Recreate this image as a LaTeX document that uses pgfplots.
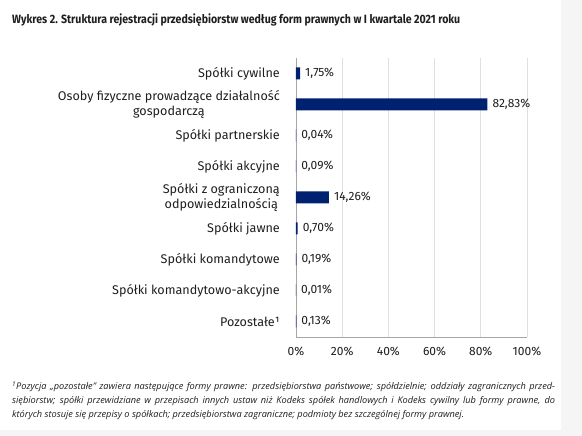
\documentclass[border=0pt]{standalone}
\usepackage{fontspec}
\setmainfont{Fira Sans}
\newfontfamily\footfont{Open Sans}
\usepackage{graphicx}
\usepackage{pgfplots}
\pgfplotsset{compat=1.18}
\definecolor{barblue}{RGB}{0,33,112}
\definecolor{txt}{RGB}{30,30,30}
\begin{document}
\begin{tikzpicture}
\path[use as bounding box] (0pt,0pt) rectangle (582pt,436pt);
\fill[black!4] (561pt,0pt) rectangle (582pt,436pt);
\fill[black!4] (0pt,0pt) rectangle (561pt,6pt);
\node[anchor=base west, inner sep=0pt, text=txt] at (12pt,412pt)
  {\resizebox{448pt}{\height}{\fontsize{12}{14}\selectfont\bfseries Wykres 2. Struktura rejestracji przedsiębiorstw według form prawnych w I kwartale 2021 roku}};
\begin{axis}[
  at={(296pt,99pt)}, anchor=south west,
  scale only axis, width=231pt, height=279pt,
  xmin=0, xmax=100, ymin=0.5, ymax=9.5,
  y dir=reverse,
  xbar, bar width=12pt,
  /pgf/number format/assume math mode=true,
  axis x line*=bottom, axis y line*=left,
  axis line style={draw=black!35, -},
  xmajorgrids, grid style={draw=black!12, line width=0.6pt},
  major tick length=0pt,
  xtick={0,20,40,60,80,100},
  xticklabel={\pgfmathprintnumber{\tick}\%},
  xticklabel style={font=\fontsize{12}{14}\selectfont, text=txt, inner sep=0pt, anchor=north, yshift=-10pt},
  ytick={1,...,9},
  yticklabels={
    {Spółki cywilne},
    {Osoby fizyczne prowadzące działalność\\gospodarczą},
    {Spółki partnerskie},
    {Spółki akcyjne},
    {Spółki z ograniczoną\\odpowiedzialnością},
    {Spółki jawne},
    {Spółki komandytowe},
    {Spółki komandytowo-akcyjne},
    {Pozostałe¹}},
  yticklabel style={font=\fontsize{12.6}{15}\selectfont, text=txt, align=center, inner sep=0pt, anchor=east, xshift=-16pt},
  nodes near coords={\pgfmathprintnumber[fixed,fixed zerofill,precision=2,use comma]{\pgfplotspointmeta}\%},
  point meta=x,
  every node near coord/.append style={font=\fontsize{12}{14}\selectfont, text=txt, anchor=west, inner sep=0pt, xshift=5pt},
]
\addplot[fill=barblue, draw=none] coordinates {
  (1.75,1) (82.83,2) (0.04,3) (0.09,4) (14.26,5) (0.70,6) (0.19,7) (0.01,8) (0.13,9)};
\end{axis}
\begin{scope}[font=\footfont\itshape\fontsize{9.2}{11}\selectfont, text=txt]
\node[anchor=base west, inner sep=0pt] at (12pt,46pt) {\makebox[543pt][s]{\textsuperscript{1}Pozycja „pozostałe” zawiera następujące formy prawne: przedsiębiorstwa państwowe; spółdzielnie; oddziały zagranicznych przed-}};
\node[anchor=base west, inner sep=0pt] at (12pt,32pt) {\makebox[543pt][s]{siębiorstw; spółki przewidziane w przepisach innych ustaw niż Kodeks spółek handlowych i Kodeks cywilny lub formy prawne, do}};
\node[anchor=base west, inner sep=0pt] at (12pt,18pt) {których stosuje się przepisy o spółkach; przedsiębiorstwa zagraniczne; podmioty bez szczególnej formy prawnej.};
\end{scope}
\end{tikzpicture}
\end{document}
